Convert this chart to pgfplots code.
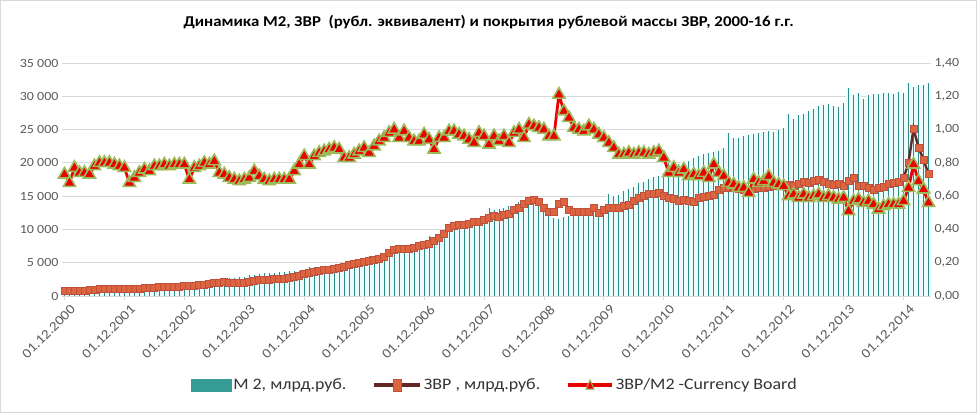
\documentclass[border=0pt]{standalone}
\usepackage{pgfplots}
\pgfplotsset{compat=1.18}
\usepackage{pgfplotstable}
\usepackage{fontspec}
\setmainfont{Carlito}[FakeStretch=1.12]
\definecolor{mtwo}{RGB}{46,139,135}
\definecolor{mtwofill}{RGB}{236,251,251}
\definecolor{mtwoleg}{RGB}{55,155,150}
\definecolor{zvrline}{RGB}{99,40,38}
\definecolor{zvrfill}{RGB}{220,100,62}
\definecolor{zvrdraw}{RGB}{192,80,60}
\definecolor{ratioline}{RGB}{235,0,0}
\definecolor{tridraw}{RGB}{155,187,89}
\definecolor{gridc}{RGB}{217,217,217}
\definecolor{textc}{RGB}{89,89,89}
\pgfplotstableread{
i m2 z r
0 1100 750 0.73
1 1150 760 0.68
2 1130 770 0.77
3 1160 790 0.74
4 1190 820 0.74
5 1230 900 0.73
6 1260 950 0.78
7 1300 1000 0.80
8 1340 1020 0.80
9 1380 1050 0.80
10 1400 1050 0.79
11 1440 1060 0.78
12 1500 1070 0.77
13 1600 1080 0.68
14 1570 1090 0.71
15 1590 1100 0.74
16 1630 1150 0.76
17 1680 1200 0.75
18 1720 1250 0.78
19 1760 1300 0.78
20 1810 1330 0.79
21 1860 1350 0.78
22 1880 1380 0.79
23 1920 1420 0.79
24 1970 1450 0.79
25 2130 1480 0.70
26 2110 1520 0.77
27 2170 1600 0.78
28 2260 1700 0.80
29 2360 1800 0.79
30 2480 1950 0.81
31 2580 2000 0.74
32 2620 2050 0.73
33 2680 2000 0.71
34 2740 1950 0.70
35 2790 1900 0.69
36 2840 1950 0.70
37 3210 2100 0.71
38 3200 2300 0.75
39 3280 2350 0.72
40 3390 2400 0.70
41 3430 2450 0.69
42 3450 2500 0.70
43 3530 2550 0.70
44 3610 2600 0.70
45 3680 2650 0.70
46 3760 2800 0.75
47 3830 3000 0.79
48 3980 3350 0.84
49 4360 3450 0.79
50 4300 3550 0.84
51 4400 3700 0.86
52 4480 3850 0.87
53 4560 3950 0.88
54 4690 4100 0.89
55 4850 4200 0.88
56 4980 4350 0.83
57 5100 4650 0.83
58 5180 4800 0.85
59 5270 4950 0.87
60 5400 5100 0.89
61 6040 5300 0.86
62 6000 5400 0.90
63 6150 5600 0.93
64 6320 5900 0.95
65 6510 6500 0.98
66 6730 6900 1.00
67 6970 7000 0.95
68 7170 7050 0.99
69 7380 7100 0.95
70 7590 7300 0.93
71 7780 7500 0.93
72 8120 7750 0.97
73 8990 7900 0.94
74 8880 8300 0.88
75 9160 8700 0.95
76 9460 9300 0.95
77 9710 10300 0.99
78 10150 10600 0.99
79 10630 10650 0.97
80 10920 10700 0.96
81 11150 10800 0.94
82 11300 11100 0.92
83 11500 11200 0.98
84 11820 11500 0.96
85 13270 11800 0.91
86 12950 12000 0.96
87 13100 11950 0.93
88 13260 12150 0.96
89 13470 12300 0.92
90 13580 12900 0.98
91 14100 13300 1.00
92 14240 13800 0.95
93 14280 14300 1.03
94 13890 14400 1.02
95 13500 14200 1.01
96 13400 13200 1.00
97 12000 12700 0.96
98 11700 12600 0.96
99 11500 13900 1.21
100 11800 14150 1.11
101 12000 12900 1.07
102 12200 12650 1.01
103 12300 12600 1.00
104 12400 12700 0.99
105 12450 12700 1.02
106 12700 13300 1.00
107 12800 12500 0.97
108 13100 13000 0.95
109 15270 13200 0.92
110 15000 13300 0.89
111 15230 13300 0.85
112 15700 13500 0.85
113 16000 13700 0.86
114 16390 14300 0.85
115 16970 14700 0.86
116 17180 15100 0.86
117 17550 15300 0.85
118 17840 15300 0.86
119 18000 15500 0.87
120 18430 15100 0.83
121 20010 14700 0.74
122 19600 14600 0.77
123 19800 14300 0.74
124 20120 14500 0.76
125 20330 14300 0.72
126 20660 14200 0.73
127 21090 14800 0.72
128 21280 14900 0.74
129 21540 15000 0.71
130 21660 15200 0.79
131 21800 16000 0.74
132 22200 16200 0.72
133 24480 16300 0.68
134 23700 16200 0.67
135 23800 16100 0.65
136 24000 16000 0.65
137 24200 15900 0.62
138 24350 16100 0.70
139 24450 16200 0.68
140 24600 16300 0.69
141 24750 16400 0.72
142 24600 16500 0.68
143 24900 16500 0.67
144 25300 16600 0.66
145 27400 16700 0.60
146 26650 16500 0.61
147 27150 16900 0.59
148 27400 17100 0.61
149 27800 17000 0.59
150 28150 17300 0.60
151 28550 17400 0.61
152 28700 17100 0.59
153 28800 16900 0.60
154 28550 16700 0.59
155 28400 16800 0.58
156 29050 16600 0.59
157 31300 17300 0.51
158 30250 17700 0.57
159 30500 16500 0.58
160 29650 16500 0.56
161 30150 16200 0.57
162 30300 15900 0.55
163 30400 16300 0.52
164 30500 16400 0.54
165 30500 16900 0.55
166 30400 17000 0.55
167 30650 17200 0.55
168 30500 17700 0.57
169 32000 20000 0.65
170 31400 25150 0.79
171 31650 22300 0.69
172 31650 20500 0.64
173 32000 18300 0.56
}\data
\begin{document}
\begin{tikzpicture}
\path[use as bounding box] (-62pt,-118pt) rectangle (915pt,296pt);
\draw[gridc, line width=1pt] (-61pt,-117pt) rectangle (914pt,295pt);
\begin{axis}[
  scale only axis, width=869pt, height=233pt,
  xmin=-0.5, xmax=173.5, ymin=0, ymax=35000,
  scaled y ticks=false,
  axis x line*=bottom, axis y line*=left,
  x axis line style={gridc, line width=0.8pt},
  y axis line style={draw=none},
  xtick={0,12,...,168},
  xticklabels={01.12.2000,01.12.2001,01.12.2002,01.12.2003,01.12.2004,01.12.2005,01.12.2006,01.12.2007,01.12.2008,01.12.2009,01.12.2010,01.12.2011,01.12.2012,01.12.2013,01.12.2014},
  xticklabel style={xshift=11pt, yshift=-5pt, rotate=45, anchor=east, font=\fontsize{13.5}{15}\selectfont, text=textc},
  xtick align=outside, major tick length=4pt,
  x tick style={gridc, line width=0.8pt},
  ytick={0,5000,10000,15000,20000,25000,30000,35000},
  yticklabels={0,5 000,10 000,15 000,20 000,25 000,30 000,35 000},
  yticklabel style={font=\fontsize{12.5}{14}\selectfont, text=textc},
  y tick style={draw=none},
  ymajorgrids, grid style={gridc, line width=0.8pt},
]
\addplot[ybar, bar width=1, bar shift=0pt, fill=mtwofill, draw=none] table[x=i,y=m2]{\data};
\addplot[ycomb, mtwo, line width=1.0pt] table[x=i,y=m2]{\data};
\addplot[zvrline, line width=2.4pt, mark=square*, mark size=3.5pt,
  mark options={fill=zvrfill, draw=zvrdraw, line width=0.8pt}] table[x=i,y=z]{\data};
\end{axis}
\begin{axis}[
  scale only axis, width=869pt, height=233pt,
  xmin=-0.5, xmax=173.5, ymin=0, ymax=1.4,
  axis x line=none, axis y line*=right,
  y axis line style={draw=none},
  ytick={0,0.2,0.4,0.6,0.8,1.0,1.2,1.4},
  yticklabels={{0,00},{0,20},{0,40},{0,60},{0,80},{1,00},{1,20},{1,40}},
  yticklabel style={font=\fontsize{12.5}{14}\selectfont, text=textc},
  y tick style={draw=none},
  title={Динамика М2, ЗВР\ \ (рубл. эквивалент) и покрытия рублевой массы ЗВР, 2000-16 г.г.},
  title style={at={(0.491,1.150)}, anchor=center, font=\bfseries\fontsize{15}{17}\selectfont, text=black},
  legend style={at={(0.498,-0.382)}, anchor=center, draw=none, fill=none,
    font=\fontsize{16}{18}\selectfont, text=black!80, legend columns=3,
    /tikz/every even column/.append style={column sep=24pt}},
]
\addlegendimage{legend image code/.code={\fill[mtwoleg] (0pt,-6pt) rectangle (40pt,6pt);}}
\addlegendentry{М 2, млрд.руб.}
\addlegendimage{legend image code/.code={\draw[zvrline, line width=3.5pt] (0pt,0pt) -- (46pt,0pt);
  \draw[fill=zvrfill, draw=zvrdraw, line width=0.8pt] (19pt,-6pt) rectangle (27pt,6pt);}}
\addlegendentry{ЗВР , млрд.руб.}
\addplot[ratioline, line width=2.8pt, mark=triangle*, mark size=7pt,
  mark options={fill=ratioline, draw=tridraw, line width=1.6pt},
  legend image code/.code={\draw[ratioline, line width=3.5pt] (0pt,0pt) -- (44pt,0pt);
  \draw[fill=ratioline, draw=tridraw, line width=1pt] (18pt,-4pt) -- (26pt,-4pt) -- (22pt,5pt) -- cycle;}]
  table[x=i,y=r]{\data};
\addlegendentry{ЗВР/М2 -Currency Board}
\end{axis}
\end{tikzpicture}
\end{document}
